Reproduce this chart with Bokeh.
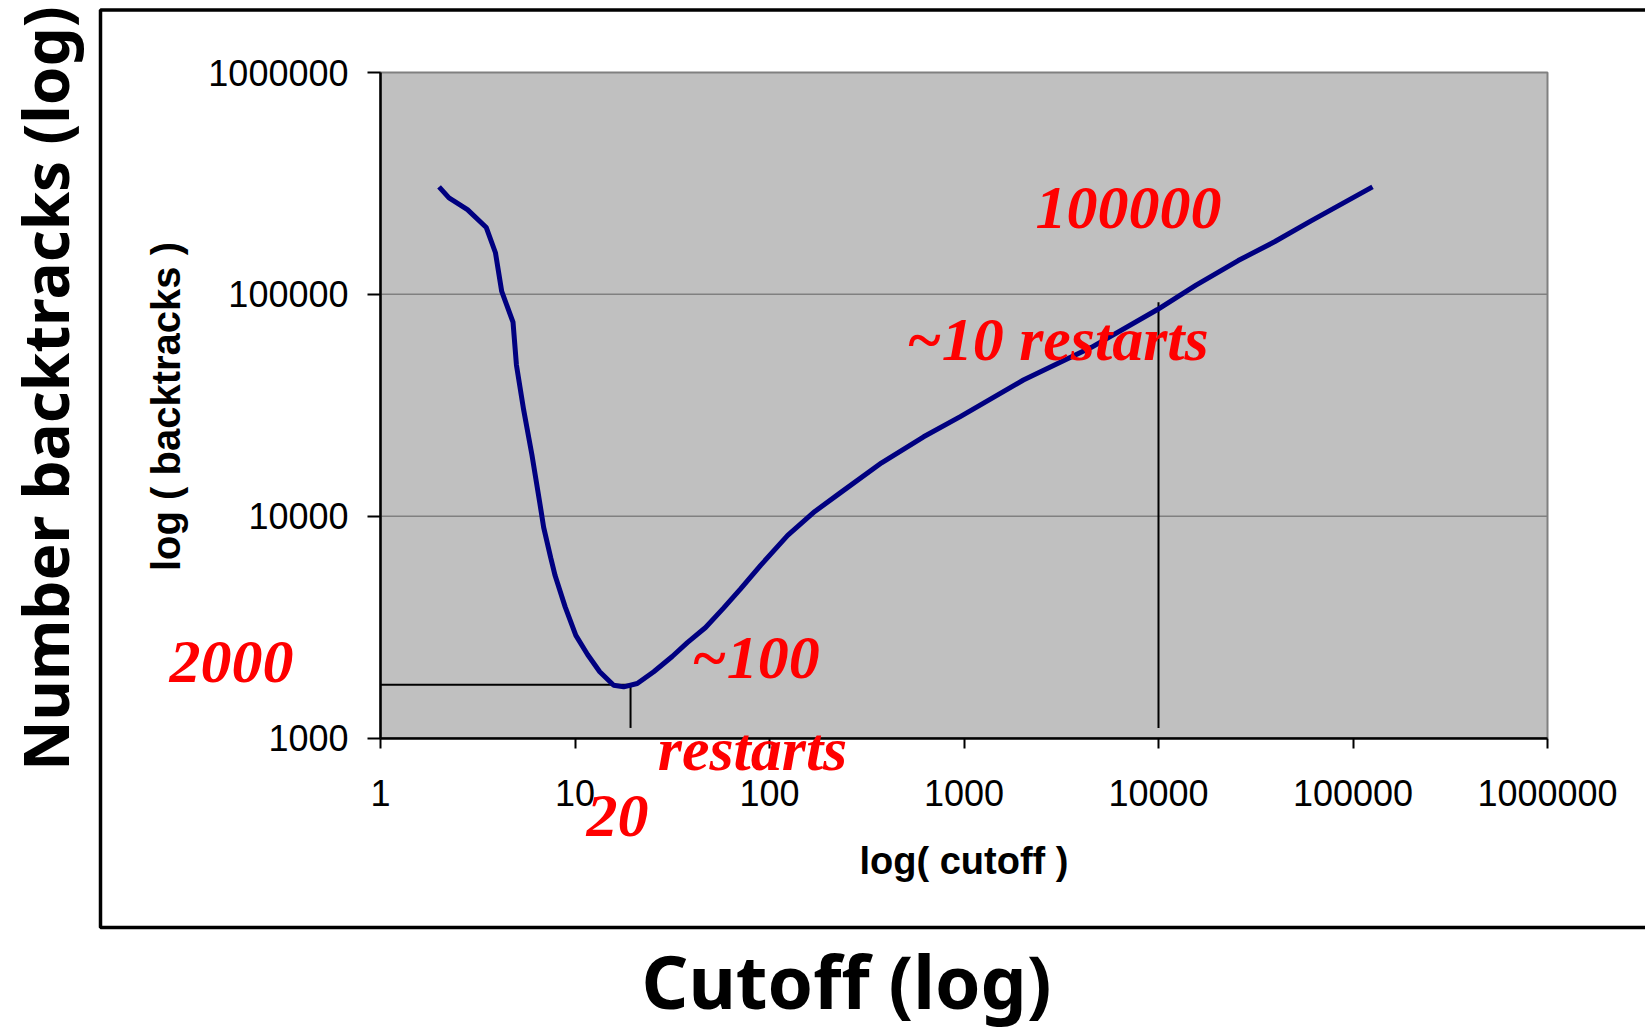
import math
from bokeh.plotting import figure
from bokeh.models import Range1d, FixedTicker, Label, BoxAnnotation, PrintfTickFormatter
from bokeh.embed import file_html
from bokeh.resources import INLINE

# ---- data -------------------------------------------------------------
cutoff = [2.0, 2.25, 2.8, 3.5, 3.9, 4.2, 4.8, 5.0, 5.45, 6.0, 6.6, 6.9, 7.5, 7.9,
          8.9, 10.1, 11.6, 13.4, 15.8, 17.8, 20.9, 25.4, 31.6, 37.8, 46.9, 58,
          71, 90, 124, 171, 230, 377, 620, 957, 2020, 4520, 9880, 15600, 25700,
          39700, 61200, 126000]
backtracks = [305000, 272000, 241000, 200000, 154000, 103000, 75000, 48000, 30000,
              19000, 11400, 8900, 6500, 5400, 3900, 2900, 2380, 1990, 1730, 1700,
              1760, 1990, 2330, 2690, 3150, 3850, 4700, 6000, 8190, 10500, 12700,
              17400, 22800, 28100, 41100, 57700, 85400, 110000, 142000, 173000,
              215000, 305000]

x_ticks = [1, 10, 100, 1000, 10000, 100000, 1000000]
x_tick_labels = ["1", "10", "100", "1000", "10000", "100000", "1000000"]
y_ticks = [1000, 10000, 100000, 1000000]
y_tick_labels = ["1000", "10000", "100000", "1000000"]

# guide lines (x0, y0, x1, y1)
guide_x0 = [1, 19.3, 10000]
guide_y0 = [1740, 1110, 1110]
guide_x1 = [19.3, 19.3, 10000]
guide_y1 = [1740, 1740, 92000]

# ---- layout (pixels) --------------------------------------------------
W, H = 1645, 1032
PLOT_L, PLOT_R, PLOT_T, PLOT_B = 380.0, 1547.0, 72.0, 737.5
XDEC = (PLOT_R - PLOT_L) / 6.0          # px per decade on x (1 .. 1e6)
YDEC = (PLOT_B - PLOT_T) / 3.0          # px per decade on y (1e3 .. 1e6)


def xd(px):   # canvas px -> x data
    return 10 ** ((px - PLOT_L) / XDEC)


def yd(py):   # canvas px -> y data
    return 10 ** (3 + (PLOT_B - py) / YDEC)


p = figure(width=W, height=H, x_axis_type="log", y_axis_type="log",
           x_range=Range1d(xd(0), xd(W)), y_range=Range1d(yd(H), yd(0)),
           output_backend="svg", toolbar_location=None,
           min_border_left=0, min_border_right=0,
           min_border_top=0, min_border_bottom=0)

p.background_fill_color = "white"
p.border_fill_color = "white"
p.outline_line_color = None
p.grid.visible = False

# plot area (grey) with grey outline
p.add_layout(BoxAnnotation(left=x_ticks[0], right=x_ticks[-1],
                           bottom=y_ticks[0], top=y_ticks[-1],
                           fill_color="#C0C0C0", fill_alpha=1,
                           line_color="#808080", line_alpha=1, line_width=2,
                           level="underlay"))

# horizontal grid lines at inner y ticks
gy = y_ticks[1:-1]
p.segment(x0=[x_ticks[0]] * len(gy), y0=gy, x1=[x_ticks[-1]] * len(gy), y1=gy,
          line_color="#808080", line_width=1.5)

xa = p.xaxis[0]
ya = p.yaxis[0]
xa.fixed_location = y_ticks[0]
ya.fixed_location = x_ticks[0]
xa.bounds = (x_ticks[0], x_ticks[-1])
ya.bounds = (y_ticks[0], y_ticks[-1])
xa.ticker = FixedTicker(ticks=x_ticks, minor_ticks=[])
ya.ticker = FixedTicker(ticks=y_ticks, minor_ticks=[])
xa.formatter = PrintfTickFormatter(format="%d")
ya.formatter = PrintfTickFormatter(format="%d")
xa.major_label_overrides = {t: s for t, s in zip(x_ticks, x_tick_labels)}
ya.major_label_overrides = {t: s for t, s in zip(y_ticks, y_tick_labels)}

for ax in (xa, ya):
    ax.axis_line_color = "black"
    ax.axis_line_width = 2.5
    ax.major_tick_line_color = "black"
    ax.major_tick_line_width = 2
    ax.major_tick_in = 0
    ax.minor_tick_in = 0
    ax.minor_tick_out = 0
    ax.major_label_text_font = "Liberation Sans"
    ax.major_label_text_font_size = "36px"
    ax.major_label_text_color = "black"

xa.major_tick_out = 10
xa.major_label_standoff = 32
xa.axis_label = "log( cutoff )"
xa.axis_label_standoff = 30
xa.axis_label_text_font = "Liberation Sans"
xa.axis_label_text_font_style = "bold"
xa.axis_label_text_font_size = "38px"
xa.axis_label_text_color = "black"

ya.major_tick_out = 13
ya.major_label_standoff = 19

# y-axis title
p.add_layout(Label(x=xd(165), y=yd(406), text="log ( backtracks )", angle=math.pi / 2,
                   text_font="Liberation Sans", text_font_style="bold",
                   text_font_size="40px", text_color="black",
                   text_align="center", text_baseline="middle"))

# guide lines and curve
p.segment(x0=guide_x0, y0=guide_y0, x1=guide_x1, y1=guide_y1,
          line_color="black", line_width=2)
p.line(cutoff, backtracks, line_color="#000080", line_width=5)

# outer frame box
p.add_layout(BoxAnnotation(left=xd(100), right=xd(W + 50), top=yd(9.5), bottom=yd(927),
                           fill_alpha=0, line_color="black", line_alpha=1, line_width=3.5))

# red hand-written annotations
red_notes = [
    ("100000", 1128, 207),
    ("~10 restarts", 1057, 338),
    ("~100", 755, 656),
    ("restarts", 752, 748),
    ("2000", 231, 661),
    ("20", 617, 815),
]
for txt, px, py in red_notes:
    p.add_layout(Label(x=xd(px), y=yd(py), text=txt, text_color="#FF0000",
                       text_font="Liberation Serif", text_font_style="bold italic",
                       text_font_size="62px", text_align="center",
                       text_baseline="middle"))

# big outer labels
p.add_layout(Label(x=xd(44), y=yd(388), text="Number backtracks (log)", angle=math.pi / 2,
                   text_font="Noto Sans", text_font_style="bold", text_font_size="62px",
                   text_color="black", text_align="center", text_baseline="middle"))
p.add_layout(Label(x=xd(846), y=yd(980), text="Cutoff (log)",
                   text_font="Noto Sans", text_font_style="bold", text_font_size="73px",
                   text_color="black", text_align="center", text_baseline="middle"))

open("out.html", "w").write(file_html(p, INLINE))
